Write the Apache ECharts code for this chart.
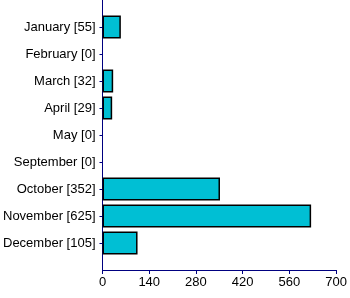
<!DOCTYPE html>
<html><head><meta charset="utf-8">
<script src="https://cdn.jsdelivr.net/npm/echarts@6/dist/echarts.min.js"></script>
<style>html,body{margin:0;padding:0;background:#fff}#c{width:350px;height:298px}</style>
</head><body><div id="c"></div>
<script>
const months = ['January','February','March','April','May','September','October','November','December'];
const values = [55, 0, 32, 29, 0, 0, 352, 625, 105];
const xTicks = [0, 140, 280, 420, 560, 700];

const cats = [''].concat(months.map((m,i)=>m+' ['+values[i]+']')).concat(['']);
const data = [null].concat(values.map(v => v === 0 ? {value:v, itemStyle:{borderWidth:0}} : v)).concat([null]);

const chart = echarts.init(document.getElementById('c'));
chart.setOption({
  animation:false,
  grid:{left:98.5,right:12.5,top:0,bottom:28,containLabel:false},
  xAxis:{type:'value',min:xTicks[0],max:xTicks[xTicks.length-1],interval:140,
    axisLine:{show:true,lineStyle:{color:'#000080',width:1}},
    axisTick:{show:true,length:4,lineStyle:{color:'#000080'}},
    splitLine:{show:false},
    axisLabel:{color:'#000',fontFamily:'Liberation Sans, Arial',fontSize:13,margin:6}},
  yAxis:{type:'category',data:cats,inverse:true,boundaryGap:false,
    axisLine:{show:true,lineStyle:{color:'#000080',width:1}},
    axisTick:{show:true,length:3,interval:(i,v)=>v!=='',lineStyle:{color:'#000080'}},
    axisLabel:{interval:0,color:'#000',fontFamily:'Liberation Sans, Arial',fontSize:13,margin:7}},
  series:[{type:'bar',data:data,barWidth:23,
    itemStyle:{color:'#00bfd4',borderColor:'#000',borderWidth:1.5}}]
});
</script></body></html>
